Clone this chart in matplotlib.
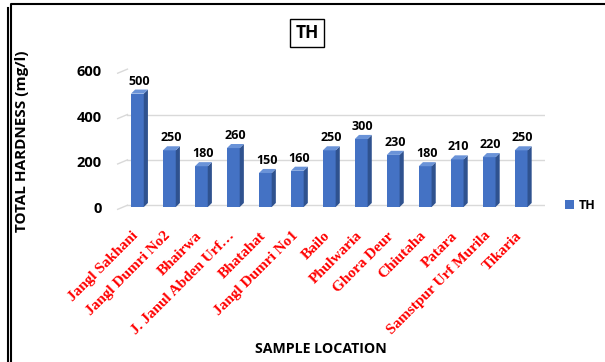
import numpy as np
import matplotlib.pyplot as plt
from matplotlib.lines import Line2D
from matplotlib.patches import Polygon, Patch
import matplotlib.transforms as mtransforms

locations = ["Jangl Sakhani", "Jangl Dumri No2", "Bhairwa", "J. Janul Abden Urf\u2026",
             "Bhatahat", "Jangl Dumri No1", "Bailo", "Phulwaria", "Ghora Deur",
             "Chiutaha", "Patara", "Samstpur Urf Murila", "Tikaria"]
th = [500, 250, 180, 260, 150, 160, 250, 300, 230, 180, 210, 220, 250]
yticks = [0, 200, 400, 600]

front = "#4472C4"
side = "#2F528F"
top = "#6A93D8"
sans = "Open Sans"

fig = plt.figure(figsize=(6.05, 3.62), dpi=100)
ax = fig.add_axes([0.198, 0.428, 0.703, 0.376])

x = np.arange(len(th))
w = 0.40
dx = 0.13   # depth of the bars, x units
dy = 18     # depth of the bars, y units

ax.bar(x, th, width=w, color=front, zorder=3)
for xi, v in zip(x, th):
    l, r = xi - w / 2, xi + w / 2
    ax.add_patch(Polygon([(r, 0), (r + dx, dy), (r + dx, v + dy), (r, v)],
                         closed=True, facecolor=side, edgecolor="none", zorder=3))
    ax.add_patch(Polygon([(l, v), (r, v), (r + dx, v + dy), (l + dx, v + dy)],
                         closed=True, facecolor=top, edgecolor="none", zorder=3))
    ax.text(xi + 0.05, v + 27, str(v), ha="center", va="bottom",
            fontsize=9, fontweight="bold", family=sans, zorder=4)

ax.set_xlim(-0.55, 12.75)
ax.set_ylim(0, 600)

# grid lines with a small slanted floor edge on the left
trans = mtransforms.blended_transform_factory(ax.transAxes, ax.transData)
for t in yticks:
    ax.plot([0.018, 1.0], [t + 8, t + 8], transform=trans, color="#D9D9D9", lw=1, zorder=1)
    ax.plot([-0.005, 0.018], [t - 10, t + 8], transform=trans, color="#D9D9D9", lw=1,
            zorder=1, clip_on=False)

for s in ax.spines.values():
    s.set_visible(False)
ax.set_yticks(yticks)
ax.set_yticklabels([str(t) for t in yticks], fontsize=10.5, fontweight="bold", family=sans)
ax.tick_params(axis="y", length=0, pad=13)
ax.set_xticks(x - 0.18)
ax.set_xticklabels(locations, rotation=45, ha="right", rotation_mode="anchor",
                   color="red", fontsize=11, fontweight="bold", family="Liberation Serif")
ax.tick_params(axis="x", length=0, pad=16)

fig.text(0.036, 0.61, "TOTAL HARDNESS (mg/l)", rotation=90, ha="center", va="center",
         fontsize=11, fontweight="bold", family=sans)
fig.text(0.53, 0.036, "SAMPLE LOCATION", ha="center", va="center",
         fontsize=10.2, fontweight="bold", family=sans)
fig.text(0.508, 0.909, "TH", ha="center", va="center", fontsize=12.5, fontweight="bold",
         family=sans, bbox=dict(boxstyle="square,pad=0.3", facecolor="white",
                                edgecolor="black", lw=1))

fig.legend(handles=[Patch(facecolor=front, label="TH")], loc="center left",
           bbox_to_anchor=(0.915, 0.433), frameon=False, handlelength=0.7,
           handleheight=0.7, handletextpad=0.4, prop=dict(family=sans, weight="bold", size=9))

# outer frame lines
fig.add_artist(Line2D([8 / 605, 8 / 605], [0, 1 - 8 / 362], color="black", lw=1.5))
fig.add_artist(Line2D([11 / 605, 11 / 605, 1.0], [0, 1 - 4 / 362, 1 - 4 / 362],
                      color="black", lw=1.5))

fig.savefig("out.png", dpi=100)
